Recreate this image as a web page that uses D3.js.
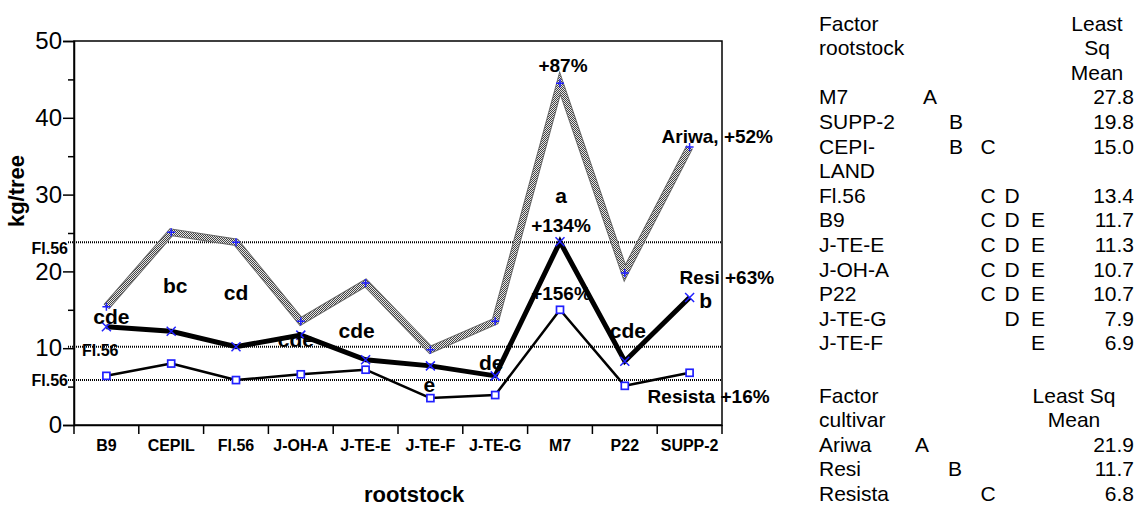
<!DOCTYPE html>
<html>
<head>
<meta charset="utf-8">
<script src="https://cdn.jsdelivr.net/npm/d3@7"></script>
<style>
  html, body { margin: 0; padding: 0; background: #fff; }
  svg { display: block; font-family: "Liberation Sans", Arial, sans-serif; }
</style>
</head>
<body>
<svg id="chart" width="1138" height="507"></svg>
<script>
// ---- data ----
const categories = ["B9", "CEPIL", "Fl.56", "J-OH-A", "J-TE-E", "J-TE-F", "J-TE-G", "M7", "P22", "SUPP-2"];
const ariwa   = [15.4, 25.1, 23.8, 13.5, 18.5, 9.8, 13.5, 44.5, 19.8, 36.2];
const resi    = [12.8, 12.2, 10.2, 11.7, 8.5, 7.7, 6.4, 23.85, 8.3, 16.6];
const resista = [6.4, 8.0, 5.85, 6.6, 7.2, 3.5, 3.9, 15.0, 5.1, 6.8];
const rootstockLetters = ["cde", "bc", "cd", "cde", "cde", "e", "de", "a", "cde", "b"];
const yMajorTicks = [0, 10, 20, 30, 40, 50];
const yMinorTicks = [5, 15, 25, 35, 45];

const tableRootstocks = ["M7", "SUPP-2", "CEPI-\nLAND", "Fl.56", "B9", "J-TE-E", "J-OH-A", "P22", "J-TE-G", "J-TE-F"];
const tableRootstockGroups = ["A", "B", "BC", "CD", "CDE", "CDE", "CDE", "CDE", "DE", "E"];
const tableRootstockMeans = ["27.8", "19.8", "15.0", "13.4", "11.7", "11.3", "10.7", "10.7", "7.9", "6.9"];
const tableCultivars = ["Ariwa", "Resi", "Resista"];
const tableCultivarGroups = ["A", "B", "C"];
const tableCultivarMeans = ["21.9", "11.7", "6.8"];

// ---- layout ----
const svg = d3.select("#chart");
const plot = { left: 74, right: 722, top: 41, bottom: 425 };
const baseCat = "Fl.56";
const bold = "bold";
const blue = "#2020ff";

const x = d3.scaleBand().domain(categories).range([plot.left, plot.right]);
const y = d3.scaleLinear().domain([0, 50]).range([plot.bottom, plot.top]);
const cx = c => x(c) + x.bandwidth() / 2;

const series = [
  { name: "Ariwa",   values: ariwa,   labelSep: ", " },
  { name: "Resi",    values: resi,    labelSep: " " },
  { name: "Resista", values: resista, labelSep: " " }
];
const baseIdx = categories.indexOf(baseCat);

// checker pattern for the dithered grey line
const defs = svg.append("defs");
const pat = defs.append("pattern").attr("id", "checker")
  .attr("patternUnits", "userSpaceOnUse").attr("width", 2).attr("height", 2);
pat.append("rect").attr("width", 2).attr("height", 2).attr("fill", "#e6e6e6");
pat.append("rect").attr("width", 1).attr("height", 1).attr("fill", "#444");
pat.append("rect").attr("x", 1).attr("y", 1).attr("width", 1).attr("height", 1).attr("fill", "#444");

// ---- frame ----
svg.append("rect")
  .attr("x", plot.left).attr("y", plot.top)
  .attr("width", plot.right - plot.left).attr("height", plot.bottom - plot.top)
  .attr("fill", "none").attr("stroke", "#000").attr("stroke-width", 1.5);

// y axis: major ticks with labels, minor ticks without
const yAxis = svg.append("g").attr("transform", `translate(${plot.left},0)`)
  .call(d3.axisLeft(y).tickValues(yMajorTicks).tickSize(11).tickPadding(1).tickFormat(d3.format("d")));
yAxis.select(".domain").attr("stroke-width", 1.5);
yAxis.selectAll(".tick line").attr("stroke-width", 1.5);
yAxis.selectAll(".tick text").attr("font-size", 24).attr("font-family", "Liberation Sans, Arial, sans-serif").attr("fill", "#000");
const yMinor = svg.append("g").attr("transform", `translate(${plot.left},0)`)
  .call(d3.axisLeft(y).tickValues(yMinorTicks).tickSize(6).tickFormat(""));
yMinor.select(".domain").remove();
yMinor.selectAll(".tick line").attr("stroke-width", 1.5);

// x axis: category labels centred, ticks at band boundaries
const xAxis = svg.append("g").attr("transform", `translate(0,${plot.bottom})`)
  .call(d3.axisBottom(x).tickSize(0).tickPadding(15));
xAxis.select(".domain").attr("stroke-width", 1.5);
xAxis.selectAll(".tick text").attr("font-size", 16).attr("font-weight", bold)
  .attr("font-family", "Liberation Sans, Arial, sans-serif").attr("fill", "#000");
const bounds = categories.map(c => x(c)).concat([x(categories[categories.length - 1]) + x.bandwidth()]);
svg.append("g").selectAll("line").data(bounds).join("line")
  .attr("x1", d => d).attr("x2", d => d)
  .attr("y1", plot.bottom).attr("y2", plot.bottom + 9)
  .attr("stroke", "#000").attr("stroke-width", 1.5);

// axis titles
svg.append("text").attr("x", 414).attr("y", 502).attr("text-anchor", "middle")
  .attr("font-size", 22).attr("font-weight", bold).text("rootstock");
svg.append("text").attr("transform", "translate(24,191) rotate(-90)").attr("text-anchor", "middle")
  .attr("font-size", 22).attr("font-weight", bold).text("kg/tree");

// ---- Fl.56 reference lines for each cultivar ----
const refLabels = [
  { anchor: "end",   lx: 68, dy: 12 },
  { anchor: "start", lx: 82, dy: 9 },
  { anchor: "end",   lx: 68, dy: 6 }
];
series.forEach(s => {
  const yy = y(s.values[baseIdx]);
  svg.append("line").attr("x1", 68).attr("x2", plot.right).attr("y1", yy).attr("y2", yy)
    .attr("stroke", "#000").attr("stroke-width", 2).attr("stroke-dasharray", "1,1");
});

// ---- series lines ----
const line = v => d3.line().x((d, i) => cx(categories[i])).y(d => y(d))(v);

svg.append("path").attr("d", line(ariwa)).attr("fill", "none")
  .attr("stroke", "#666").attr("stroke-width", 7.5).attr("stroke-linejoin", "miter");
svg.append("path").attr("d", line(ariwa)).attr("fill", "none")
  .attr("stroke", "url(#checker)").attr("stroke-width", 5.5).attr("stroke-linejoin", "miter");
svg.append("path").attr("d", line(resi)).attr("fill", "none")
  .attr("stroke", "#000").attr("stroke-width", 5).attr("stroke-linejoin", "miter");
svg.append("path").attr("d", line(resista)).attr("fill", "none")
  .attr("stroke", "#000").attr("stroke-width", 2.5).attr("stroke-linejoin", "round");

// ---- markers ----
const pts = v => v.map((d, i) => ({ x: cx(categories[i]), y: y(d) }));
svg.append("g").selectAll("path").data(pts(ariwa)).join("path")
  .attr("d", d => `M${d.x - 4},${d.y}H${d.x + 4}M${d.x},${d.y - 4}V${d.y + 4}`)
  .attr("stroke", blue).attr("stroke-width", 1.5);
svg.append("g").selectAll("path").data(pts(resi)).join("path")
  .attr("d", d => `M${d.x - 4.5},${d.y - 4.5}L${d.x + 4.5},${d.y + 4.5}M${d.x - 4.5},${d.y + 4.5}L${d.x + 4.5},${d.y - 4.5}`)
  .attr("stroke", blue).attr("stroke-width", 1.5);
svg.append("g").selectAll("rect").data(pts(resista)).join("rect")
  .attr("x", d => d.x - 3.5).attr("y", d => d.y - 3.5).attr("width", 7).attr("height", 7)
  .attr("fill", "#fff").attr("stroke", blue).attr("stroke-width", 1.7);

// ---- reference labels ----
series.forEach((s, i) => {
  const r = refLabels[i];
  svg.append("text").attr("x", r.lx).attr("y", y(s.values[baseIdx]) + r.dy)
    .attr("text-anchor", r.anchor).attr("font-size", 16).attr("font-weight", bold)
    .text(baseCat);
});

// ---- significance letters, placed relative to the Resi points ----
const letterOffsets = [[5, -3], [4, -38.5], [0, -46.5], [-5, 12], [-9, -22], [-1, 26], [-4, -6], [1, -39], [3, -23], [16, 10.5]];
svg.append("g").selectAll("text").data(rootstockLetters).join("text")
  .attr("x", (d, i) => cx(categories[i]) + letterOffsets[i][0])
  .attr("y", (d, i) => y(resi[i]) + letterOffsets[i][1])
  .attr("text-anchor", "middle").attr("font-size", 21).attr("font-weight", bold)
  .text(d => d);

// ---- percentage gains over Fl.56 ----
const pct = (s, cat) => Math.round((s.values[categories.indexOf(cat)] / s.values[baseIdx] - 1) * 100);
const m7Offsets = [[3, -11], [1, -10], [1, -10]];
series.forEach((s, i) => {
  const k = categories.indexOf("M7");
  svg.append("text").attr("x", cx("M7") + m7Offsets[i][0]).attr("y", y(s.values[k]) + m7Offsets[i][1])
    .attr("text-anchor", "middle").attr("font-size", 19).attr("font-weight", bold)
    .text(`+${pct(s, "M7")}%`);
});
const suppOffsets = [[-28, -4], [-10, -13.5], [-42, 30]];
series.forEach((s, i) => {
  const k = categories.indexOf("SUPP-2");
  svg.append("text").attr("x", cx("SUPP-2") + suppOffsets[i][0]).attr("y", y(s.values[k]) + suppOffsets[i][1])
    .attr("text-anchor", "start").attr("font-size", 19).attr("font-weight", bold)
    .text(`${s.name}${s.labelSep}+${pct(s, "SUPP-2")}%`);
});

// ---- LS-means tables ----
const tbl = svg.append("g").attr("font-size", 21);
const nameX = 819, valueX = 1134;
const rowH = 24.6, row0 = 23, base = 7.5;
const rowY = i => row0 + rowH * i + base;
const rootCols = { A: 930, B: 956, C: 988, D: 1012, E: 1038 };
const cultCols = { A: 922, B: 955, C: 988 };

tbl.append("text").attr("x", nameX).attr("y", rowY(0)).text("Factor");
tbl.append("text").attr("x", nameX).attr("y", rowY(1)).text("rootstock");
["Least", "Sq", "Mean"].forEach((t, i) =>
  tbl.append("text").attr("x", 1097).attr("y", rowY(i)).attr("text-anchor", "middle").text(t));

let r = 3;
tableRootstocks.forEach((name, i) => {
  const lines = name.split("\n");
  lines.forEach((ln, j) => tbl.append("text").attr("x", nameX).attr("y", rowY(r + j)).text(ln));
  tableRootstockGroups[i].split("").forEach(g =>
    tbl.append("text").attr("x", rootCols[g]).attr("y", rowY(r)).attr("text-anchor", "middle").text(g));
  tbl.append("text").attr("x", valueX).attr("y", rowY(r)).attr("text-anchor", "end").text(tableRootstockMeans[i]);
  r += lines.length;
});

const cRow0 = 395 + base, cRowH = 24.5;
const cRowY = i => cRow0 + cRowH * i;
tbl.append("text").attr("x", nameX).attr("y", cRowY(0)).text("Factor");
tbl.append("text").attr("x", nameX).attr("y", cRowY(1)).text("cultivar");
tbl.append("text").attr("x", 1074).attr("y", cRowY(0)).attr("text-anchor", "middle").text("Least Sq");
tbl.append("text").attr("x", 1074).attr("y", cRowY(1)).attr("text-anchor", "middle").text("Mean");
tableCultivars.forEach((name, i) => {
  tbl.append("text").attr("x", nameX).attr("y", cRowY(2 + i)).text(name);
  tbl.append("text").attr("x", cultCols[tableCultivarGroups[i]]).attr("y", cRowY(2 + i))
    .attr("text-anchor", "middle").text(tableCultivarGroups[i]);
  tbl.append("text").attr("x", valueX).attr("y", cRowY(2 + i)).attr("text-anchor", "end").text(tableCultivarMeans[i]);
});
</script>
</body>
</html>
